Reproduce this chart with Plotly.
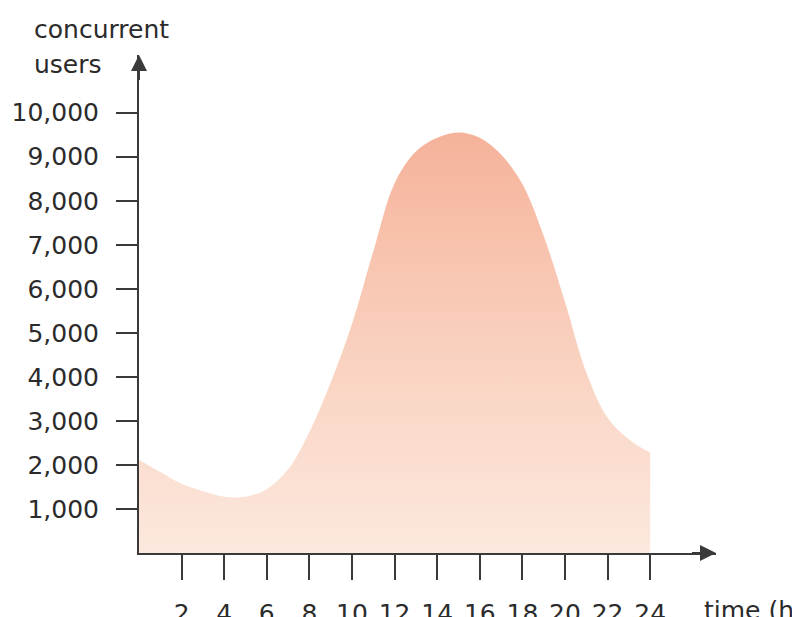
import plotly.graph_objects as go

# Data
hours = list(range(0, 25))
users = [2120, 1840, 1570, 1400, 1280, 1280, 1450, 1900, 2750, 3870,
         5200, 6850, 8400, 9120, 9430, 9550, 9430, 9050, 8380, 7200,
         5700, 4100, 3070, 2580, 2280]

x_ticks = [2, 4, 6, 8, 10, 12, 14, 16, 18, 20, 22, 24]
x_ticklabels = [str(v) for v in x_ticks]
y_ticks = [1000, 2000, 3000, 4000, 5000, 6000, 7000, 8000, 9000, 10000]
y_ticklabels = ["1,000", "2,000", "3,000", "4,000", "5,000",
                "6,000", "7,000", "8,000", "9,000", "10,000"]

X_MAX = 27.09
Y_MAX = 11310
AX_COLOR = "#3a3a3a"
TXT = "#2b2b2b"
FONT = "DejaVu Sans"

fig = go.Figure()
fig.add_trace(go.Scatter(
    x=hours, y=users, mode="lines",
    line=dict(width=0, shape="spline", smoothing=1.0, color="rgba(0,0,0,0)"),
    fill="tozeroy",
    fillgradient=dict(type="vertical", start=0, stop=9550,
                      colorscale=[[0, "#fce8de"], [0.35, "#fad8c8"],
                                  [0.7, "#f8c4af"], [1, "#f5b29a"]]),
    hoverinfo="skip", showlegend=False,
))

# the page has an 8px body margin, so the figure is 8px smaller than the window
fig.update_layout(
    width=792, height=609,
    margin=dict(l=131, r=84, t=47, b=64, pad=0, autoexpand=False),
    paper_bgcolor="white", plot_bgcolor="white",
    font=dict(family=FONT, size=25, color=TXT),
    xaxis=dict(range=[0, X_MAX], showgrid=False, zeroline=False, automargin=False,
               showline=True, linecolor=AX_COLOR, linewidth=2,
               ticks="outside", ticklen=25, tickwidth=2, tickcolor=AX_COLOR,
               tickvals=x_ticks, ticktext=x_ticklabels,
               ticklabelstandoff=12, tickfont=dict(size=25, color=TXT)),
    yaxis=dict(range=[0, Y_MAX], showgrid=False, zeroline=False, automargin=False,
               showline=True, linecolor=AX_COLOR, linewidth=2,
               ticks="outside", ticklen=21, tickwidth=2, tickcolor=AX_COLOR,
               tickvals=y_ticks, ticktext=y_ticklabels,
               ticklabelstandoff=12, tickfont=dict(size=25, color=TXT)),
)

# arrow heads at the ends of the axes
fig.add_annotation(x=0, y=Y_MAX, ax=0, ay=Y_MAX - 600, xref="x", yref="y",
                   axref="x", ayref="y", text="", showarrow=True,
                   arrowhead=2, arrowsize=1.6, arrowwidth=2, arrowcolor=AX_COLOR)
fig.add_annotation(x=X_MAX, y=0, ax=X_MAX - 1.2, ay=0, xref="x", yref="y",
                   axref="x", ayref="y", text="", showarrow=True,
                   arrowhead=2, arrowsize=1.6, arrowwidth=2, arrowcolor=AX_COLOR)

# axis titles
fig.add_annotation(x=0, y=1, xref="paper", yref="paper", text="concurrent",
                   showarrow=False, xanchor="left", yanchor="middle",
                   xshift=-107, yshift=26,
                   font=dict(family=FONT, size=25, color=TXT))
fig.add_annotation(x=0, y=1, xref="paper", yref="paper", text="users",
                   showarrow=False, xanchor="left", yanchor="middle",
                   xshift=-107, yshift=-9,
                   font=dict(family=FONT, size=25, color=TXT))
fig.add_annotation(x=1, y=0, xref="paper", yref="paper", text="time (h)",
                   showarrow=False, xanchor="left", yanchor="middle",
                   xshift=-14, yshift=-57,
                   font=dict(family=FONT, size=25, color=TXT))

fig.write_html("out.html")
